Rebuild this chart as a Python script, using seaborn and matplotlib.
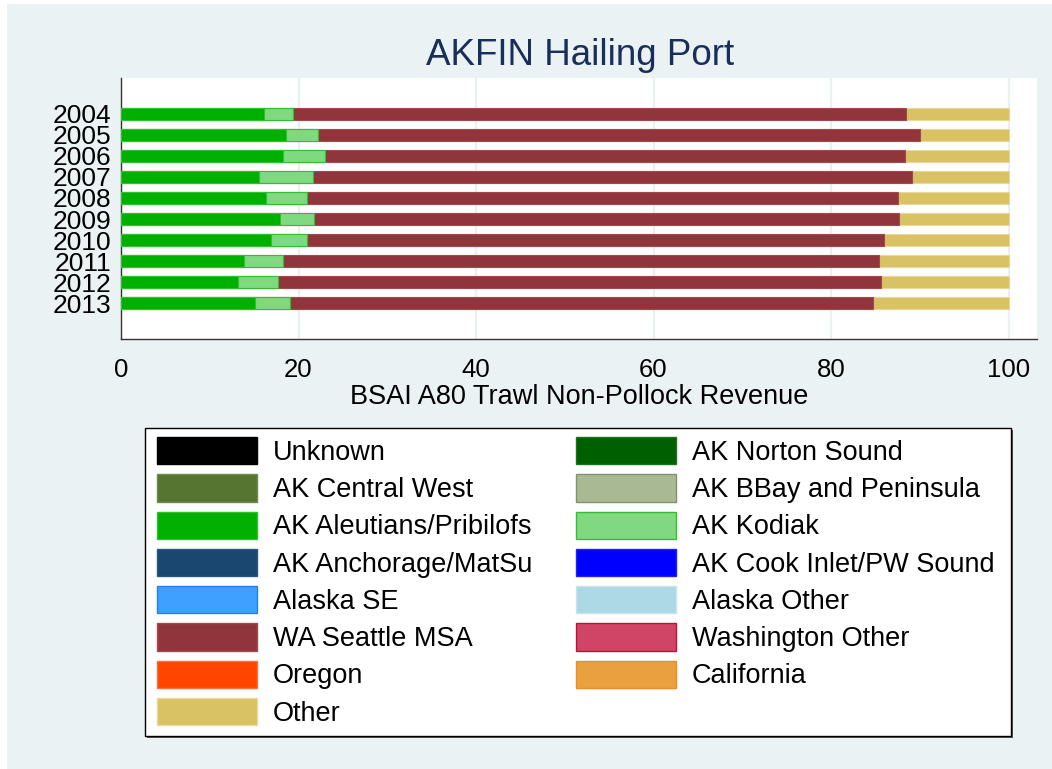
import matplotlib
matplotlib.use("Agg")
import matplotlib.pyplot as plt
import numpy as np
import pandas as pd
import seaborn as sns
from matplotlib.patches import Patch, Rectangle

# data (share of revenue, %)
years = ["2004", "2005", "2006", "2007", "2008", "2009", "2010", "2011", "2012", "2013"]
aleutians = [16.1, 18.6, 18.2, 15.5, 16.3, 17.9, 16.9, 13.9, 13.2, 15.1]
kodiak = [3.3, 3.6, 4.8, 6.1, 4.7, 3.9, 4.0, 4.4, 4.5, 3.9]
seattle = [69.0, 67.8, 65.3, 67.5, 66.5, 65.8, 65.1, 67.1, 67.9, 65.7]
other = [11.6, 10.0, 11.7, 10.9, 12.5, 12.4, 14.0, 14.6, 14.4, 15.3]

# legend entries (column by column) and their colours
legend_labels = ["Unknown", "AK Central West", "AK Aleutians/Pribilofs", "AK Anchorage/MatSu",
                 "Alaska SE", "WA Seattle MSA", "Oregon", "Other",
                 "AK Norton Sound", "AK BBay and Peninsula", "AK Kodiak", "AK Cook Inlet/PW Sound",
                 "Alaska Other", "Washington Other", "California"]
legend_colors = ["#000000", "#557530", "#00b000", "#1a476f",
                 "#3fa0ff", "#90353b", "#ff4500", "#d9c264",
                 "#006000", "#a9b994", "#80d880", "#0000ff",
                 "#add8e6", "#d04466", "#e9a03e"]
legend_edges = ["#000000", "#6f8a4f", "#30c030", "#2a577f",
                "#1f80ef", "#a04a50", "#ff7040", "#e8d89a",
                "#207020", "#7f9468", "#30c030", "#2020ff",
                "#c8e4ee", "#c0103a", "#f08c20"]

df = pd.DataFrame({"year": years, "aleutians": aleutians, "kodiak": kodiak,
                   "seattle": seattle, "other": other})
# cumulative ends for stacking (drawn back to front)
df["c_aleutians"] = df["aleutians"]
df["c_kodiak"] = df["c_aleutians"] + df["kodiak"]
df["c_seattle"] = df["c_kodiak"] + df["seattle"]
df["c_other"] = df["c_seattle"] + df["other"]

sns.set_style("white")
plt.rcParams["font.family"] = ["Liberation Sans", "DejaVu Sans"]
plt.rcParams["text.color"] = "black"
plt.rcParams["axes.labelcolor"] = "black"
plt.rcParams["xtick.labelcolor"] = "black"
plt.rcParams["ytick.labelcolor"] = "black"

fig = plt.figure(figsize=(10.52, 7.69), dpi=100)
fig.patch.set_facecolor("white")
fig.patches.append(Rectangle((7 / 1052, 0), 1, 1 - 4 / 769, transform=fig.transFigure,
                             facecolor="#eaf2f3", edgecolor="none", zorder=-10))

ax = fig.add_axes([121 / 1052, 1 - 339 / 769, (1037 - 121) / 1052, (339 - 78) / 769])
ax.set_facecolor("white")

layers = [("c_other", "#d9c264", "#e8d89a"),
          ("c_seattle", "#90353b", "#a04a50"),
          ("c_kodiak", "#80d880", "#30c030"),
          ("c_aleutians", "#00b000", "#30c030")]
for col, fc, ec in layers:
    sns.barplot(data=df, x=col, y="year", order=years, orient="h", color=fc,
                edgecolor=ec, linewidth=0.8, width=0.6, saturation=1, ax=ax, zorder=3)

ax.set_xlim(0, 103.2)
ax.set_ylim(9 + 1.71, -1.71)
ax.set_xticks([0, 20, 40, 60, 80, 100])
ax.grid(axis="x", color="#e8f0f2", linewidth=1.6, zorder=0)
ax.set_axisbelow(True)
for s in ["top", "right"]:
    ax.spines[s].set_visible(False)
for s in ["left", "bottom"]:
    ax.spines[s].set_color("#333333")
    ax.spines[s].set_linewidth(1.0)
ax.tick_params(axis="x", length=8, width=1, color="#555555", pad=6, labelsize=18.5)
ax.tick_params(axis="y", length=0, pad=7, labelsize=19)
ax.set_ylabel("")
ax.set_xlabel("BSAI A80 Trawl Non-Pollock Revenue", fontsize=19.5, labelpad=1)

fig.text(580 / 1052, 1 - 65 / 769, "AKFIN Hailing Port", ha="center", va="baseline",
         fontsize=26.5, color="#1a2e5a")

# legend box with a small shadow, drawn separately so its size matches
fig.patches.append(Rectangle((147 / 1052, 1 - 738 / 769), (1011 - 145) / 1052, (736 - 428) / 769,
                             transform=fig.transFigure, facecolor="#555555",
                             edgecolor="none", zorder=1))
fig.patches.append(Rectangle((145 / 1052, 1 - 736 / 769), (1011 - 145) / 1052, (736 - 428) / 769,
                             transform=fig.transFigure, facecolor="white",
                             edgecolor="black", linewidth=1.0, zorder=2))

handles = [Patch(facecolor=c, edgecolor=e, linewidth=1.0) for c, e in zip(legend_colors, legend_edges)]
leg = fig.legend(handles, legend_labels, ncol=2, loc="upper left",
                 bbox_to_anchor=(157 / 1052, 1 - 437 / 769), borderaxespad=0,
                 fontsize=19.5, frameon=False, borderpad=0, handlelength=3.69, handleheight=1.18,
                 handletextpad=0.59, labelspacing=0.31, columnspacing=1.62)
leg.set_zorder(5)

fig.savefig("out.png", dpi=100, facecolor=fig.get_facecolor())
